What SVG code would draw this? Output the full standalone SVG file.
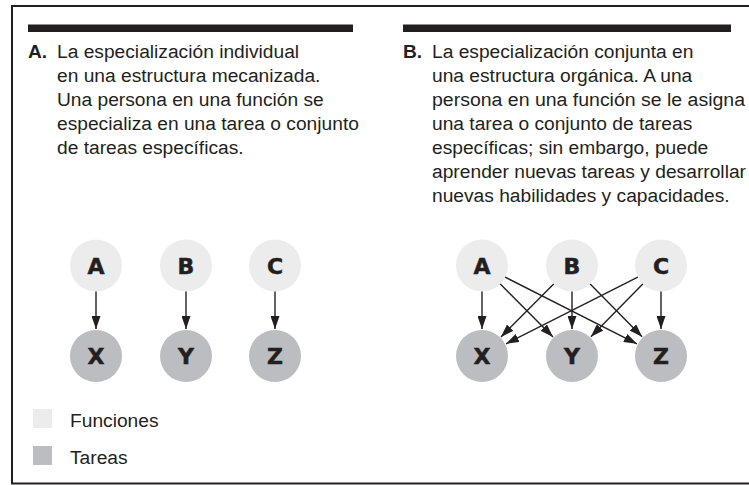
<svg xmlns="http://www.w3.org/2000/svg" width="749" height="485" viewBox="0 0 749 485">
<defs>
<style>
.body{font-family:"Liberation Sans",Arial,sans-serif;font-size:19.2px;fill:#231f20}
.lbl{font-family:"Liberation Sans",Arial,sans-serif;font-size:19.2px;font-weight:bold;fill:#231f20}
.node text{font-family:"DejaVu Sans","Liberation Sans",sans-serif;font-size:22px;font-weight:bold;fill:#231f20;stroke:#231f20;stroke-width:0.5;text-anchor:middle}
.fn{fill:#ececec}
.tk{fill:#bcbdc0}
.bar{fill:#231f20}
.conn line{stroke:#231f20;stroke-width:1.4;fill:none;marker-end:url(#ah)}
</style>
<marker id="ah" markerUnits="userSpaceOnUse" markerWidth="13" markerHeight="9" refX="13" refY="4.5" orient="auto" viewBox="0 0 13 9">
<path d="M0,0 L13,4.5 L0,9 Z" fill="#231f20"/>
</marker>
</defs>
<rect x="0" y="0" width="749" height="485" fill="#ffffff"/>
<rect x="12" y="6" width="800" height="477.5" fill="none" stroke="#231f20" stroke-width="2"/>

<g id="panelA-header">
<rect class="bar" x="28" y="24.5" width="325" height="7.5"/>
<text class="lbl" x="28" y="57.5">A.</text>
<text class="body" x="57" y="57.5">La especialización individual</text>
<text class="body" x="57" y="81.6">en una estructura mecanizada.</text>
<text class="body" x="57" y="105.7">Una persona en una función se</text>
<text class="body" x="57" y="129.8">especializa en una tarea o conjunto</text>
<text class="body" x="57" y="153.9">de tareas específicas.</text>
</g>

<g id="panelB-header">
<rect class="bar" x="403" y="24.5" width="328" height="7.5"/>
<text class="lbl" x="403" y="57.5">B.</text>
<text class="body" x="432" y="57.5">La especialización conjunta en</text>
<text class="body" x="432" y="81.6">una estructura orgánica. A una</text>
<text class="body" x="432" y="105.7" textLength="313" lengthAdjust="spacingAndGlyphs">persona en una función se le asigna</text>
<text class="body" x="432" y="129.8">una tarea o conjunto de tareas</text>
<text class="body" x="432" y="153.9">específicas; sin embargo, puede</text>
<text class="body" x="432" y="178" textLength="314" lengthAdjust="spacingAndGlyphs">aprender nuevas tareas y desarrollar</text>
<text class="body" x="432" y="202.1">nuevas habilidades y capacidades.</text>
</g>

<g id="a-A" class="node"><circle class="fn" cx="96" cy="265.5" r="26"/><text x="96" y="273.5">A</text></g>
<g id="a-B" class="node"><circle class="fn" cx="186" cy="265.5" r="26"/><text x="186" y="273.5">B</text></g>
<g id="a-C" class="node"><circle class="fn" cx="275" cy="265.5" r="26"/><text x="275" y="273.5">C</text></g>
<g id="a-X" class="node"><circle class="tk" cx="96" cy="356" r="26"/><text x="96" y="364">X</text></g>
<g id="a-Y" class="node"><circle class="tk" cx="186" cy="356" r="26"/><text x="186" y="364">Y</text></g>
<g id="a-Z" class="node"><circle class="tk" cx="275" cy="356" r="26"/><text x="275" y="364">Z</text></g>

<g id="b-A" class="node"><circle class="fn" cx="482" cy="265.5" r="26"/><text x="482" y="273.5">A</text></g>
<g id="b-B" class="node"><circle class="fn" cx="572" cy="265.5" r="26"/><text x="572" y="273.5">B</text></g>
<g id="b-C" class="node"><circle class="fn" cx="661" cy="265.5" r="26"/><text x="661" y="273.5">C</text></g>
<g id="b-X" class="node"><circle class="tk" cx="482" cy="356" r="26"/><text x="482" y="364">X</text></g>
<g id="b-Y" class="node"><circle class="tk" cx="572" cy="356" r="26"/><text x="572" y="364">Y</text></g>
<g id="b-Z" class="node"><circle class="tk" cx="661" cy="356" r="26"/><text x="661" y="364">Z</text></g>

<g id="connectors" class="conn">
<line x1="96" y1="291.5" x2="96" y2="329"/>
<line x1="186" y1="291.5" x2="186" y2="329"/>
<line x1="275" y1="291.5" x2="275" y2="329"/>
<line x1="482" y1="291.5" x2="482" y2="329"/>
<line x1="500.3" y1="283.9" x2="553" y2="336.9"/>
<line x1="505.2" y1="277.2" x2="636.9" y2="343.8"/>
<line x1="553.7" y1="283.9" x2="501" y2="336.9"/>
<line x1="572" y1="291.5" x2="572" y2="329"/>
<line x1="590.2" y1="284" x2="642.1" y2="336.7"/>
<line x1="637.8" y1="277.2" x2="506.1" y2="343.8"/>
<line x1="642.8" y1="284" x2="590.9" y2="336.7"/>
<line x1="661" y1="291.5" x2="661" y2="329"/>
</g>

<g id="legend">
<rect class="fn" x="33" y="409" width="19" height="19"/>
<text class="body" x="70" y="427">Funciones</text>
<rect class="tk" x="33" y="446" width="19" height="19"/>
<text class="body" x="70" y="464">Tareas</text>
</g>
</svg>
